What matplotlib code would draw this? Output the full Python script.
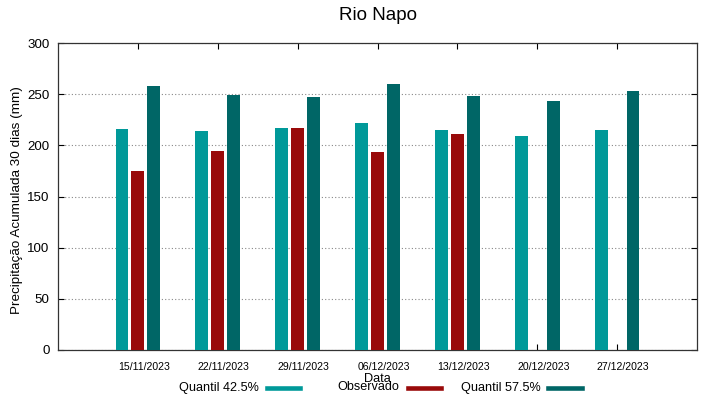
import matplotlib
matplotlib.use('Agg')
import matplotlib.pyplot as plt
import matplotlib.transforms as mtransforms
from matplotlib.lines import Line2D
import numpy as np

plt.rcParams['font.family'] = ['Liberation Sans', 'DejaVu Sans']

datas = ['15/11/2023', '22/11/2023', '29/11/2023', '06/12/2023',
         '13/12/2023', '20/12/2023', '27/12/2023']
q425 = [215.7, 214.0, 216.6, 221.8, 214.7, 209.1, 214.7]
obs = [175.2, 194.5, 217.3, 193.8, 211.0, np.nan, np.nan]
q575 = [258.0, 249.5, 246.9, 259.9, 248.5, 243.6, 252.8]

cor_q425 = '#009999'
cor_obs = '#990a0a'
cor_q575 = '#006666'

W, H = 719, 399
fig = plt.figure(figsize=(W / 100, H / 100), dpi=100)
ax = fig.add_axes([58 / W, 1 - 350 / H, (697 - 58) / W, (350 - 43) / H])

x = np.arange(1, len(datas) + 1)
bw = 0.16
ax.bar(x - 0.2, q425, bw, color=cor_q425, zorder=3)
ax.bar(x, obs, bw, color=cor_obs, zorder=3)
ax.bar(x + 0.2, q575, bw, color=cor_q575, zorder=3)

ax.set_xlim(0, len(datas) + 1)
ax.set_ylim(0, 300)
ax.set_yticks(np.arange(0, 301, 50))
ax.set_xticks(x)
ax.tick_params(axis='x', direction='in', length=4, pad=9, top=True, width=0.8)
ax.tick_params(axis='y', direction='in', length=4, labelsize=9.6, pad=6,
               right=True, width=0.8)
ax.set_xticklabels(datas, fontsize=7.6)
off = mtransforms.ScaledTranslation(6 / 100, 0, fig.dpi_scale_trans)
for lbl in ax.get_xticklabels():
    lbl.set_transform(lbl.get_transform() + off)
ax.grid(axis='y', linestyle=(0, (1, 2)), color='#888888', linewidth=0.8, zorder=0)
for s in ax.spines.values():
    s.set_linewidth(0.9)
    s.set_color('#333333')

fig.text(17 / W, 1 - 200 / H, 'Precipitação Acumulada 30 dias (mm)', fontsize=9.7,
         rotation=90, ha='center', va='center')
fig.text(339 / W, 1 - 16 / H, 'Rio Napo', fontsize=13.5, ha='left', va='center')
fig.text(377.5 / W, 1 - 379 / H, 'Data', fontsize=9.2, ha='center', va='center')

# legenda estilo gnuplot (texto e depois amostra)
leg = [('Quantil 42.5%', cor_q425, 259, 267, 300),
       ('Observado', cor_obs, 399, 408, 441),
       ('Quantil 57.5%', cor_q575, 541, 548, 582)]
for nome, cor, xt, x0, x1 in leg:
    fig.text(xt / W, 1 - 387.5 / H, nome, fontsize=9.1, ha='right', va='center')
    fig.add_artist(Line2D([x0 / W, x1 / W], [1 - 388 / H, 1 - 388 / H],
                          color=cor, linewidth=3.3, transform=fig.transFigure))

fig.savefig('out.png', dpi=100)
